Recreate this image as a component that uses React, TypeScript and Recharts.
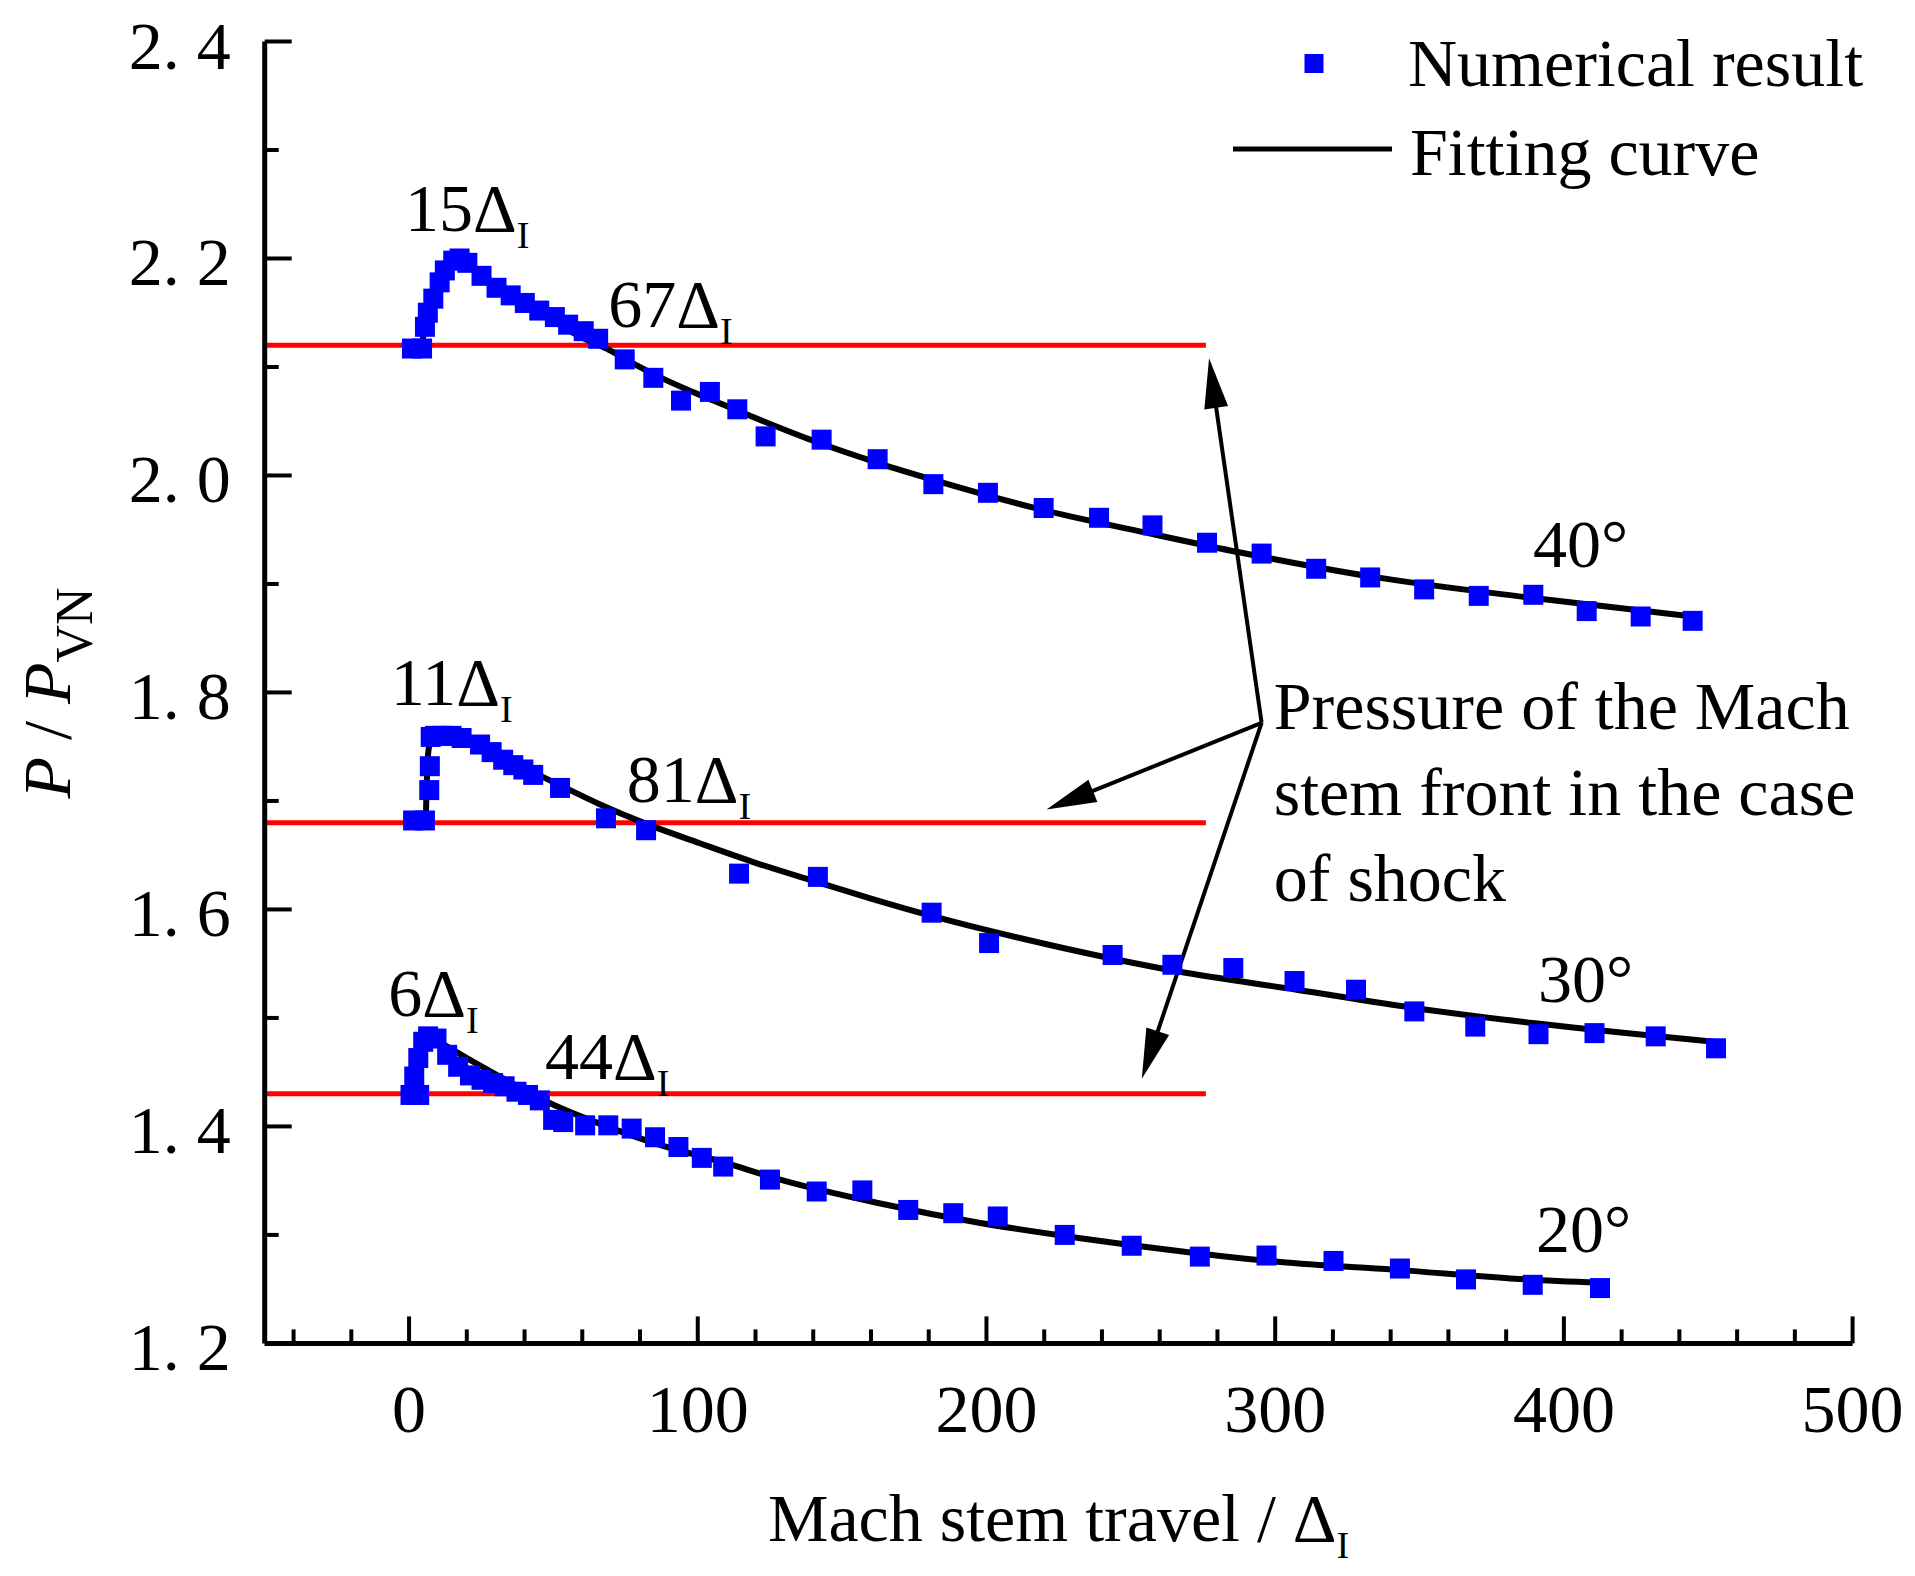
import React from 'react';
import {
  ComposedChart,
  XAxis,
  YAxis,
  Scatter,
  Line,
  ReferenceLine,
  ReferenceDot,
  Legend,
} from 'recharts';

const FONT = '"Liberation Serif", "Times New Roman", serif';
const BLUE = '#0000ff';
const RED = '#ff0000';

// ---------- data ----------
const num40: [number, number][] = [
  [1.0, 2.117], [4.5, 2.117], [5.5, 2.137], [6.5, 2.150], [8.4, 2.163], [10.6, 2.178],
  [12.4, 2.189], [15.3, 2.198], [17.5, 2.2], [20.2, 2.196], [25.1, 2.184], [30.3, 2.173],
  [35.2, 2.166], [40.1, 2.159], [45.1, 2.152], [50.5, 2.146], [55.1, 2.139], [60.5, 2.133],
  [65.5, 2.126], [74.7, 2.107], [84.6, 2.09], [94.2, 2.069], [104.2, 2.077], [113.7, 2.061],
  [123.5, 2.036], [142.9, 2.033], [162.3, 2.015], [181.6, 1.992], [200.5, 1.984], [219.8, 1.97],
  [239.0, 1.961], [257.5, 1.954], [276.4, 1.938], [295.3, 1.928], [314.2, 1.914], [332.9, 1.906],
  [351.6, 1.895], [370.5, 1.889], [389.4, 1.89], [407.9, 1.875], [426.6, 1.87], [444.6, 1.866],
];

const num30: [number, number][] = [
  [1.4, 1.682], [5.5, 1.682], [7.0, 1.71], [7.2, 1.732], [7.5, 1.759], [9.0, 1.76],
  [11.3, 1.76], [14.7, 1.76], [18.2, 1.758], [24.6, 1.752], [28.6, 1.745], [32.6, 1.738],
  [36.1, 1.733], [39.6, 1.729], [43.0, 1.724], [52.3, 1.712], [68.2, 1.684], [82.1, 1.673],
  [114.3, 1.633], [141.6, 1.63], [181.0, 1.597], [200.9, 1.569], [243.7, 1.558], [264.4, 1.549],
  [285.5, 1.546], [306.7, 1.534], [328.0, 1.526], [348.2, 1.506], [369.3, 1.492], [391.2, 1.485],
  [410.6, 1.486], [431.8, 1.483], [452.7, 1.472],
];

const num20: [number, number][] = [
  [0.5, 1.429], [3.5, 1.429], [1.8, 1.446], [3.2, 1.463], [4.9, 1.478], [6.6, 1.483],
  [9.5, 1.481], [13.2, 1.466], [17.0, 1.455], [21.1, 1.447], [25.1, 1.443], [29.1, 1.44],
  [33.1, 1.437], [37.2, 1.432], [41.2, 1.429], [45.3, 1.424], [49.9, 1.406], [53.4, 1.404],
  [61.0, 1.401], [69.0, 1.401], [77.1, 1.398], [85.2, 1.39], [93.3, 1.381], [101.4, 1.371],
  [108.8, 1.363], [125.0, 1.351], [141.2, 1.34], [157.0, 1.341], [172.9, 1.323], [188.5, 1.32],
  [203.9, 1.317], [227.1, 1.3], [250.3, 1.29], [273.9, 1.28], [297.0, 1.281], [320.2, 1.276],
  [343.2, 1.269], [366.1, 1.259], [389.2, 1.254], [412.5, 1.251],
];

const fit40Rise: [number, number][] = [
  [4.4, 2.117], [5.5, 2.14], [7.2, 2.162], [10.1, 2.181], [12.5, 2.192], [15.3, 2.199],
];
const fit40Fall: [number, number][] = [
  [18.8, 2.196], [28.0, 2.18], [38.4, 2.162], [47.7, 2.146], [59.2, 2.128], [68.4, 2.117],
  [77.7, 2.103], [88.1, 2.089], [105.4, 2.069], [122.7, 2.05], [140.0, 2.032], [163.1, 2.011],
  [181.6, 1.996], [219.8, 1.968], [257.5, 1.946], [287.9, 1.929], [332.9, 1.907],
  [389.4, 1.887], [444.6, 1.87],
];
const fit30: [number, number][] = [
  [5.8, 1.682], [6.0, 1.705], [6.3, 1.73], [6.8, 1.748], [7.8, 1.757], [9.5, 1.76],
  [13.0, 1.76], [17.6, 1.76], [22.2, 1.755], [35.0, 1.737], [51.1, 1.716], [66.0, 1.697],
  [81.1, 1.68], [100.7, 1.661], [120.0, 1.643], [141.6, 1.625], [160.0, 1.61], [181.0, 1.594],
  [222.3, 1.567], [266.0, 1.543], [307.4, 1.526], [348.7, 1.509], [390.0, 1.495], [452.0, 1.478],
];
const fit20Rise: [number, number][] = [[1.5, 1.432], [6.6, 1.484]];
const fit20Fall: [number, number][] = [
  [6.6, 1.484], [20.0, 1.463], [30.0, 1.448], [41.8, 1.431], [50.0, 1.42], [62.6, 1.406],
  [85.7, 1.384], [108.8, 1.367], [128.5, 1.351], [163.2, 1.329], [197.9, 1.311], [232.5, 1.297],
  [267.2, 1.285], [301.7, 1.275], [340.9, 1.268], [387.1, 1.259], [412.5, 1.256],
];

const refLevels = [2.12, 1.68, 1.43];
const refStart = -50;
const refEnd = 276;

const xTicks = [-40, -20, 0, 20, 40, 60, 80, 100, 120, 140, 160, 180, 200, 220, 240, 260, 280, 300,
  320, 340, 360, 380, 400, 420, 440, 460, 480, 500];
const yTicks = [1.2, 1.3, 1.4, 1.5, 1.6, 1.7, 1.8, 1.9, 2.0, 2.1, 2.2, 2.3, 2.4];

const deltaLabels = [
  { x: -1.4, y: 2.225, t: '15' },
  { x: 69.0, y: 2.137, t: '67' },
  { x: -6.3, y: 1.788, t: '11' },
  { x: 75.4, y: 1.699, t: '81' },
  { x: -7.2, y: 1.502, t: '6' },
  { x: 47.1, y: 1.444, t: '44' },
];
const angleLabels = [
  { x: 389.3, y: 1.916, t: '40°' },
  { x: 391.0, y: 1.515, t: '30°' },
  { x: 390.3, y: 1.2845, t: '20°' },
];
const noteLines = [
  { x: 299.5, y: 1.766, t: 'Pressure of the Mach' },
  { x: 299.5, y: 1.687, t: 'stem front in the case' },
  { x: 299.5, y: 1.608, t: 'of shock' },
];
const arrowFrom = { x: 295.3, y: 1.772 };
const arrowTips = [
  { x: 277.1, y: 2.108 },
  { x: 220.8, y: 1.692 },
  { x: 253.8, y: 1.444 },
];

const toPts = (a: [number, number][]) => a.map(([x, y]) => ({ x, y }));

// ---------- renderers ----------
const SquareShape = (p: any) => {
  if (p.cx == null || p.cy == null) return null;
  return <rect x={p.cx - 10} y={p.cy - 10} width={20} height={20} fill={BLUE} />;
};

const XTick = (p: any) => {
  const { x, y, payload } = p;
  const v = payload.value;
  const major = v % 100 === 0;
  return (
    <g>
      <line x1={x} x2={x} y1={y} y2={y - (major ? 27 : 14)} stroke="#000" strokeWidth={4} />
      {major && (
        <text x={x} y={y + 89} textAnchor="middle" fontFamily={FONT} fontSize={68} fill="#000">
          {v}
        </text>
      )}
    </g>
  );
};

const YTick = (p: any) => {
  const { x, y, payload } = p;
  const v = payload.value as number;
  const major = Math.round(v * 10) % 2 === 0;
  return (
    <g>
      <line x1={x} x2={x + (major ? 27 : 14)} y1={y} y2={y} stroke="#000" strokeWidth={4} />
      {major && (
        <text x={x - 34} y={y + 27} textAnchor="end" fontFamily={FONT} fontSize={68} fill="#000">
          {v.toFixed(1).replace('.', '. ')}
        </text>
      )}
    </g>
  );
};

const arrowShape = (p: any) => {
  const { x1, y1, x2, y2 } = p;
  const dx = x2 - x1;
  const dy = y2 - y1;
  const L = Math.hypot(dx, dy) || 1;
  const ux = dx / L;
  const uy = dy / L;
  const hl = 50;
  const hw = 12;
  const bx = x2 - ux * hl;
  const by = y2 - uy * hl;
  return (
    <g>
      <line x1={x1} y1={y1} x2={bx + ux * 6} y2={by + uy * 6} stroke="#000" strokeWidth={4} />
      <polygon
        points={`${x2},${y2} ${bx - uy * hw},${by + ux * hw} ${bx + uy * hw},${by - ux * hw}`}
        fill="#000"
      />
    </g>
  );
};

const deltaShape = (t: string) => (p: any) => (
  <text x={p.cx} y={p.cy} fontFamily={FONT} fontSize={68} fill="#000">
    {t}Δ
    <tspan fontSize={38} dy={17}>I</tspan>
  </text>
);

const plainShape = (t: string) => (p: any) => (
  <text x={p.cx} y={p.cy} fontFamily={FONT} fontSize={68} fill="#000">
    {t}
  </text>
);

const renderLegend = () => (
  <svg width={680} height={190} style={{ display: 'block', overflow: 'visible' }}>
    <rect x={84.5} y={34} width={19} height={19} fill={BLUE} />
    <text x={188} y={66} fontFamily={FONT} fontSize={68} fill="#000">
      Numerical result
    </text>
    <line x1={13} x2={172} y1={129} y2={129} stroke="#000" strokeWidth={5} />
    <text x={190} y={155} fontFamily={FONT} fontSize={68} fill="#000">
      Fitting curve
    </text>
  </svg>
);

const renderYLabel = () => (
  <text
    x={62}
    y={685}
    transform="rotate(-90 62 685)"
    textAnchor="middle"
    fontFamily={FONT}
    fontSize={68}
    fill="#000"
  >
    <tspan fontStyle="italic">P</tspan>
    <tspan> / </tspan>
    <tspan fontStyle="italic">P</tspan>
    <tspan fontSize={52} dy={22}>VN</tspan>
  </text>
);

const renderXLabel = () => (
  <text x={1050.6} y={1533} textAnchor="middle" fontFamily={FONT} fontSize={68} fill="#000">
    Mach stem travel / Δ
    <tspan fontSize={38} dy={17}>I</tspan>
  </text>
);

const lineCommon = {
  dataKey: 'y',
  stroke: '#000',
  strokeWidth: 6,
  dot: false,
  activeDot: false,
  isAnimationActive: false,
  strokeLinecap: 'round' as const,
  legendType: 'none' as const,
};

export default function App() {
  return (
    <div style={{ width: 1900, height: 1560, fontFamily: FONT }}>
      <ComposedChart
        width={1900}
        height={1560}
        margin={{ top: 33.5, right: 55.4, bottom: 124.6, left: 0 }}
      >
        <XAxis
          type="number"
          dataKey="x"
          domain={[-50, 500]}
          ticks={xTicks}
          interval={0}
          allowDataOverflow
          tick={<XTick />}
          tickLine={false}
          tickSize={0}
          tickMargin={0}
          height={100}
          axisLine={{ stroke: '#000', strokeWidth: 5 }}
          label={renderXLabel}
        />
        <YAxis
          type="number"
          dataKey="y"
          domain={[1.2, 2.4]}
          ticks={yTicks}
          interval={0}
          allowDataOverflow
          tick={<YTick />}
          tickLine={false}
          tickSize={0}
          tickMargin={0}
          width={256.7}
          axisLine={{ stroke: '#000', strokeWidth: 5 }}
          label={renderYLabel}
        />
        <Legend
          layout="horizontal"
          verticalAlign="middle"
          align="center"
          content={renderLegend}
          wrapperStyle={{ position: 'absolute', left: 1212, top: 12, width: 680, height: 190 }}
        />

        <Scatter data={toPts(num40)} shape={SquareShape} isAnimationActive={false} legendType="none" />
        <Scatter data={toPts(num30)} shape={SquareShape} isAnimationActive={false} legendType="none" />
        <Scatter data={toPts(num20)} shape={SquareShape} isAnimationActive={false} legendType="none" />

        {refLevels.map((lv) => (
          <ReferenceLine
            key={`ref-${lv}`}
            segment={[{ x: refStart, y: lv }, { x: refEnd, y: lv }]}
            stroke={RED}
            strokeWidth={5}
          />
        ))}

        <Line data={toPts(fit40Rise)} type="monotone" {...lineCommon} />
        <Line data={toPts(fit40Fall)} type="monotone" {...lineCommon} />
        <Line data={toPts(fit30)} type="monotone" {...lineCommon} />
        <Line data={toPts(fit20Rise)} type="linear" {...lineCommon} />
        <Line data={toPts(fit20Fall)} type="monotone" {...lineCommon} />

        {arrowTips.map((tip, i) => (
          <ReferenceLine
            key={`arrow-${i}`}
            segment={[arrowFrom, tip]}
            stroke="#000"
            strokeWidth={4}
            shape={arrowShape}
          />
        ))}

        {deltaLabels.map((d) => (
          <ReferenceDot key={`d-${d.t}`} x={d.x} y={d.y} r={1} shape={deltaShape(d.t)} />
        ))}
        {angleLabels.map((d) => (
          <ReferenceDot key={`a-${d.t}`} x={d.x} y={d.y} r={1} shape={plainShape(d.t)} />
        ))}
        {noteLines.map((d) => (
          <ReferenceDot key={`n-${d.t}`} x={d.x} y={d.y} r={1} shape={plainShape(d.t)} />
        ))}
      </ComposedChart>
    </div>
  );
}
